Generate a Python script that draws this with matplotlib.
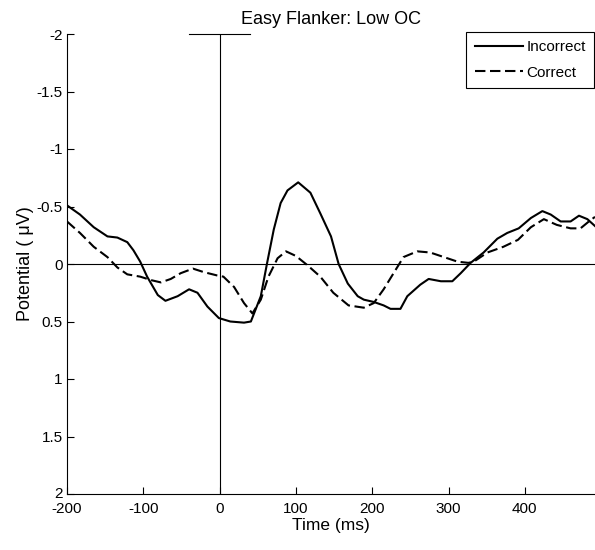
import matplotlib
matplotlib.use("Agg")
import matplotlib.pyplot as plt
import matplotlib.transforms as mtransforms

plt.rcParams['font.family'] = ['Liberation Sans', 'DejaVu Sans']
plt.rcParams['axes.unicode_minus'] = False

title = "Easy Flanker: Low OC"
xlabel = "Time (ms)"
ylabel = "Potential ( \u03bcV)"
series_names = ["Incorrect", "Correct"]

t_incorrect = [-200, -183, -165, -147, -134, -121, -113, -104, -95, -81, -71, -55, -40, -29, -16, -1,
               14, 32, 41, 54, 62, 71, 80, 89, 103, 119, 132, 146, 156, 168, 181, 189, 202, 215,
               224, 237, 246, 263, 274, 290, 305, 316, 329, 346, 364, 377, 392, 408, 423, 434,
               447, 460, 471, 482, 492]
v_incorrect = [-0.51, -0.43, -0.32, -0.24, -0.23, -0.19, -0.12, -0.02, 0.11, 0.27, 0.32, 0.28, 0.22,
               0.25, 0.37, 0.47, 0.50, 0.51, 0.50, 0.28, 0.0, -0.30, -0.53, -0.64, -0.71, -0.62,
               -0.44, -0.24, 0.0, 0.17, 0.28, 0.31, 0.33, 0.36, 0.39, 0.39, 0.28, 0.18, 0.13, 0.15,
               0.15, 0.08, -0.01, -0.10, -0.22, -0.27, -0.31, -0.40, -0.46, -0.43, -0.37, -0.37,
               -0.42, -0.39, -0.33]

t_correct = [-200, -183, -165, -147, -134, -121, -104, -90, -77, -64, -51, -35, -21, -3, 5, 19, 32,
             43, 54, 64, 76, 87, 100, 115, 132, 149, 169, 189, 202, 215, 228, 241, 259, 276, 294,
             312, 326, 333, 351, 372, 391, 408, 425, 442, 460, 473, 484, 492]
v_correct = [-0.37, -0.27, -0.15, -0.06, 0.03, 0.09, 0.11, 0.14, 0.16, 0.13, 0.08, 0.04, 0.07, 0.10,
             0.11, 0.20, 0.34, 0.43, 0.31, 0.11, -0.05, -0.11, -0.07, 0.01, 0.11, 0.25, 0.36, 0.38,
             0.34, 0.22, 0.08, -0.06, -0.11, -0.10, -0.06, -0.02, -0.01, -0.02, -0.10, -0.15, -0.21,
             -0.32, -0.39, -0.34, -0.31, -0.31, -0.37, -0.41]

xticks = [-200, -100, 0, 100, 200, 300, 400]
yticks = [-2, -1.5, -1, -0.5, 0, 0.5, 1, 1.5, 2]
ytick_labels = ["-2", "-1.5", "-1", "-0.5", "0", "0.5", "1", "1.5", "2"]

fig = plt.figure(figsize=(5.95, 5.5), dpi=100)
ax = fig.add_axes([67/595, 1 - 494/550, 1 - 67/595, (494 - 34)/550])

ax.plot(t_incorrect, v_incorrect, color='black', lw=1.5, label=series_names[0])
ax.plot(t_correct, v_correct, color='black', lw=1.5, dashes=(5, 2.2), label=series_names[1])

ax.axhline(0, color='black', lw=0.8)
ax.plot([0, 0], [-2, 2], color='black', lw=0.8)
ax.plot([-40, 40], [-2, -2], color='black', lw=0.8, clip_on=False)

ax.set_xlim(-200, 492)
ax.set_ylim(2, -2)
ax.set_xticks(xticks)
ax.set_yticks(yticks)
ax.set_yticklabels(ytick_labels)
ax.tick_params(direction='in', length=5, width=0.8, labelsize=11, colors='black')
ax.tick_params(axis='x', pad=6)
ax.tick_params(axis='y', pad=3)
for s in ['top', 'right']:
    ax.spines[s].set_visible(False)
for s in ['left', 'bottom']:
    ax.spines[s].set_linewidth(0.8)

# nudge the bottom y label ("2") slightly up so it does not touch "-200"
last_lbl = ax.get_yticklabels()[-1]
last_lbl.set_transform(last_lbl.get_transform() +
                       mtransforms.ScaledTranslation(0, 2/100, fig.dpi_scale_trans))

ax.set_title(title, fontsize=13, pad=7)
ax.set_xlabel(xlabel, fontsize=12.5, labelpad=1)
ax.set_ylabel(ylabel, fontsize=13, labelpad=2)

leg = ax.legend(loc='upper right', bbox_to_anchor=(1.0, 1.0 + 3/460), fontsize=11,
                frameon=True, fancybox=False, edgecolor='black', framealpha=1,
                handlelength=3.2, handletextpad=0.2, borderpad=0.55, labelspacing=0.75,
                borderaxespad=0.05)
leg.get_frame().set_linewidth(0.8)

fig.savefig("out.png", dpi=100)
